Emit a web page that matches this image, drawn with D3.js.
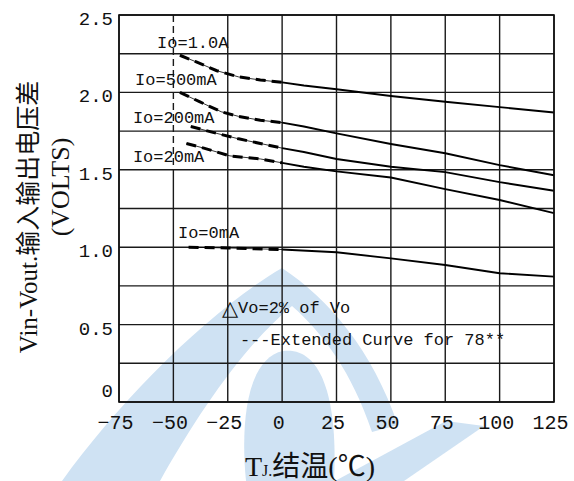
<!DOCTYPE html>
<html lang="zh">
<head>
    <meta charset="UTF-8">
    <title>Dropout Voltage vs Junction Temperature</title>
    <script src="https://d3js.org/d3.v7.min.js"></script>
    <style>
        body { margin: 0; background: #fff; }
        svg { display: block; }
        .mono { font-family: "Liberation Mono", "DejaVu Sans Mono", monospace; fill: #111; }
        .title { font-family: "Liberation Serif", "Noto Sans CJK SC", serif; fill: #111; }
        .grid line { stroke: #1a1a1a; stroke-width: 1.4px; }
    </style>
</head>
<body>
    <div id="chart"></div>

    <script>
        // axis ticks
        const tempTicks = [-75, -50, -25, 0, 25, 50, 75, 100, 125];
        const voltTicks = [0, 0.5, 1.0, 1.5, 2.0, 2.5];
        const voltGrid = [0, 0.25, 0.5, 0.75, 1.0, 1.25, 1.5, 1.75, 2.0, 2.25, 2.5];

        // curves: [Tj (°C), Vin-Vout (V)]; dashed part = extended curve (Tj <= 0)
        const io1A   = [[-47, 2.24], [-40, 2.2], [-30, 2.14], [-20, 2.1], [-10, 2.08], [0, 2.065], [10, 2.045], [25, 2.02], [50, 1.977], [75, 1.94], [100, 1.905], [125, 1.87]];
        const io500mA = [[-47, 2.0], [-38, 1.94], [-28, 1.875], [-20, 1.845], [-10, 1.82], [0, 1.805], [10, 1.78], [25, 1.735], [50, 1.667], [75, 1.607], [100, 1.53], [125, 1.465]];
        const io200mA = [[-42, 1.78], [-30, 1.735], [-20, 1.7], [-10, 1.67], [0, 1.64], [10, 1.615], [25, 1.57], [50, 1.52], [75, 1.485], [100, 1.42], [125, 1.365]];
        const io20mA  = [[-44, 1.67], [-36, 1.64], [-24, 1.59], [-10, 1.57], [0, 1.545], [10, 1.52], [25, 1.49], [50, 1.45], [75, 1.375], [100, 1.305], [125, 1.22]];
        const io0mA   = [[-43, 1.0], [-25, 0.995], [0, 0.985], [25, 0.967], [50, 0.928], [75, 0.885], [100, 0.832], [125, 0.81]];
        const curves = [io1A, io500mA, io200mA, io20mA, io0mA];

        // annotations anchored at [Tj, V]
        const notes = [
            {text: "Io=1.0A", t: -57.5, v: 2.32},
            {text: "Io=500mA", t: -67.6, v: 2.08},
            {text: "Io=200mA", t: -68.6, v: 1.835},
            {text: "Io=20mA", t: -68.6, v: 1.583},
            {text: "Io=0mA", t: -47.9, v: 1.092},
            {text: "Vo=2% of Vo", t: -27.7, v: 0.607, mark: "\u25B3"},
            {text: "---Extended Curve for 78**", t: -19.4, v: 0.40}
        ];

        const W = 574, H = 481;
        const margin = {top: 15, right: 20, bottom: 79, left: 119};

        const svg = d3.select("#chart").append("svg")
            .attr("width", W).attr("height", H);

        svg.append("rect").attr("width", W).attr("height", H).attr("fill", "#fff");

        // faint watermark behind the chart
        const wm = svg.append("g").attr("fill", "#cfe2f3");
        wm.append("path").attr("d", "M62,481 C120,400 210,310 282,268 C330,300 372,350 398,425 L372,432 C352,372 322,332 292,306 C245,345 200,410 160,481 Z");
        wm.append("path").attr("d", "M246,481 C240,420 248,358 283,351 C322,346 338,400 334,481 Z");
        wm.append("path").attr("d", "M335,481 L446,421 L484,426 L404,481 Z");

        const x = d3.scaleLinear().domain([-75, 125]).range([margin.left, W - margin.right]);
        const y = d3.scaleLinear().domain([0, 2.5]).range([H - margin.bottom, margin.top]);

        // grid
        const grid = svg.append("g").attr("class", "grid");
        grid.selectAll(".h").data(voltGrid).enter().append("line")
            .attr("x1", x(-75)).attr("x2", x(125))
            .attr("y1", d => y(d)).attr("y2", d => y(d));
        grid.selectAll(".v").data(tempTicks.filter(d => d !== -50)).enter().append("line")
            .attr("x1", d => x(d)).attr("x2", d => x(d))
            .attr("y1", y(0)).attr("y2", y(2.5));
        // the -50 line is broken in its upper part
        grid.append("line").attr("x1", x(-50)).attr("x2", x(-50))
            .attr("y1", y(2.5)).attr("y2", y(1.5)).attr("stroke-dasharray", "7,4");
        grid.append("line").attr("x1", x(-50)).attr("x2", x(-50))
            .attr("y1", y(1.5)).attr("y2", y(0));

        // curves
        const line = d3.line().x(d => x(d[0])).y(d => y(d[1]));
        const plot = svg.append("g").attr("fill", "none").attr("stroke", "#000");
        curves.forEach(c => {
            const ext = c.filter(d => d[0] <= 0);
            const main = c.filter(d => d[0] >= 0);
            plot.append("path").attr("d", line(ext)).attr("stroke-width", 0.8);
            plot.append("path").attr("d", line(ext)).attr("stroke-width", 3)
                .attr("stroke-dasharray", "10,6");
            plot.append("path").attr("d", line(main)).attr("stroke-width", 1.9);
        });

        // axes
        const xAxis = svg.append("g").attr("transform", `translate(0,${y(0)})`)
            .call(d3.axisBottom(x).tickValues(tempTicks).tickSize(0).tickPadding(13)
                .tickFormat(d => d < 0 ? "\u2212" + Math.abs(d) : d));
        xAxis.select(".domain").remove();
        xAxis.selectAll("text").attr("class", "mono").attr("font-size", 20).attr("dx", -4);

        const yAxis = svg.append("g").attr("transform", `translate(${x(-75)},0)`)
            .call(d3.axisLeft(y).tickValues(voltTicks).tickSize(0).tickPadding(6)
                .tickFormat(d => d === 0 ? "0" : d3.format(".1f")(d)));
        yAxis.select(".domain").remove();
        yAxis.selectAll("text").attr("class", "mono").attr("font-size", 19)
            .attr("dy", d => d === 0 ? "-0.3em" : "0.5em");

        // frame
        svg.append("rect")
            .attr("x", x(-75)).attr("y", y(2.5))
            .attr("width", x(125) - x(-75)).attr("height", y(0) - y(2.5))
            .attr("fill", "none").attr("stroke", "#111").attr("stroke-width", 1.6);

        // annotations
        const nt = svg.selectAll(".note").data(notes).enter().append("text")
            .attr("class", "mono")
            .attr("x", d => x(d.t)).attr("y", d => y(d.v))
            .attr("dominant-baseline", "central")
            .attr("font-size", 17);
        nt.filter(d => d.mark).append("tspan")
            .attr("font-family", "DejaVu Sans").attr("font-size", 21).text(d => d.mark);
        nt.append("tspan").text(d => d.text);

        // axis titles
        svg.append("text").attr("class", "title")
            .attr("transform", "translate(28,217) rotate(-90)")
            .attr("text-anchor", "middle").attr("dominant-baseline", "central")
            .attr("font-size", 25).text("Vin-Vout.输入输出电压差");
        svg.append("text").attr("class", "title")
            .attr("transform", "translate(60,187) rotate(-90)")
            .attr("text-anchor", "middle").attr("dominant-baseline", "central")
            .attr("font-size", 26).text("(VOLTS)");

        const xt = svg.append("text").attr("class", "title")
            .attr("x", 310).attr("y", 476)
            .attr("text-anchor", "middle").attr("font-size", 28);
        xt.append("tspan").text("T");
        xt.append("tspan").attr("font-size", 16).text("J.");
        xt.append("tspan").text("结温(℃)");
    </script>
</body>
</html>
